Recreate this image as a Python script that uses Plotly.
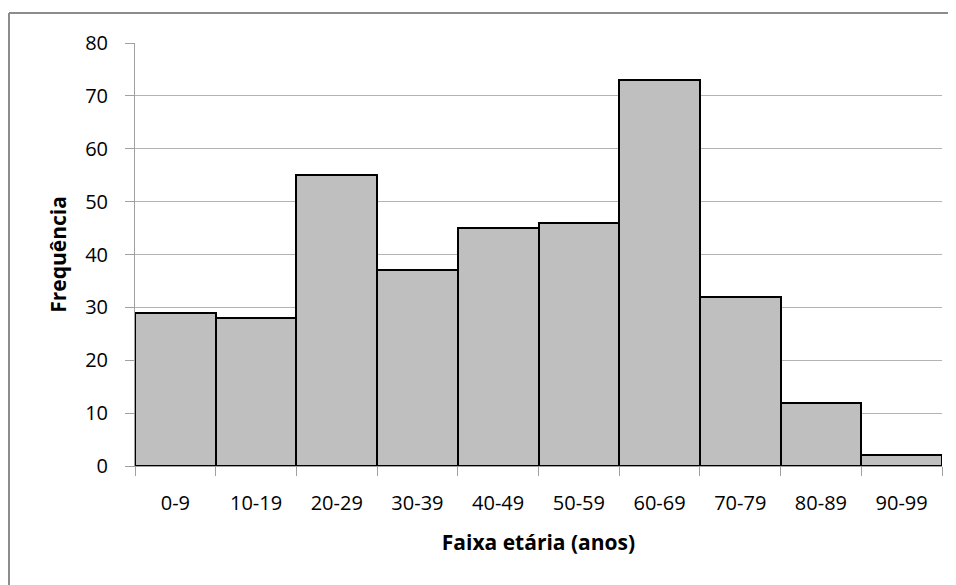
import plotly.graph_objects as go

categories = ["0-9", "10-19", "20-29", "30-39", "40-49", "50-59", "60-69", "70-79", "80-89", "90-99"]
frequencies = [29, 28, 55, 37, 45, 46, 73, 32, 12, 2]
y_ticks = [0, 10, 20, 30, 40, 50, 60, 70, 80]

# The page body adds an 8px margin; size the figure so the plot area lands at the
# same pixels as in the reference inside the 956x585 window.
OFF = 8
W, H = 956 - 2 * OFF, 585 - OFF
L, T = 135 - OFF, 43 - OFF
R = (OFF + W) - 942
B = (OFF + H) - 466
pw, ph = W - L - R, H - T - B

fig = go.Figure(go.Bar(
    x=categories, y=frequencies,
    marker=dict(color="#bfbfbf", line=dict(color="black", width=2)),
))

font_family = "Open Sans, Lato, sans-serif"

bx = (9 - OFF - L) / pw          # left border, paper units
by = 1 - (13 - OFF - T) / ph     # top border, paper units

fig.update_layout(
    width=W, height=H,
    margin=dict(l=L, r=R, t=T, b=B),
    paper_bgcolor="white", plot_bgcolor="white",
    bargap=0, showlegend=False,
    font=dict(family=font_family, size=20, color="black"),
    xaxis=dict(
        type="category", tickson="boundaries", ticks="outside", ticklen=9,
        tickcolor="#a0a0a0", showline=True, linecolor="#a0a0a0", linewidth=1,
        showgrid=False, tickfont=dict(size=20), ticklabelstandoff=19,
        title=dict(text="<b>Faixa etária (anos)</b>", font=dict(size=21), standoff=20),
    ),
    yaxis=dict(
        range=[0, 80], tickvals=y_ticks, ticks="outside", ticklen=9,
        tickcolor="#a0a0a0", showline=True, linecolor="#a0a0a0", linewidth=1,
        showgrid=True, gridcolor="#b3b3b3", gridwidth=1, zeroline=False,
        tickfont=dict(size=20), ticklabelstandoff=13,
        title=dict(text="<b>Frequência</b>", font=dict(size=21), standoff=12),
    ),
    shapes=[
        dict(type="line", xref="paper", yref="paper", layer="below",
             x0=bx, x1=bx, y0=-1, y1=by, line=dict(color="#8c8c8c", width=2)),
        dict(type="line", xref="paper", yref="paper", layer="below",
             x0=bx, x1=2, y0=by, y1=by, line=dict(color="#8c8c8c", width=2)),
    ],
)

fig.write_html("out.html")
